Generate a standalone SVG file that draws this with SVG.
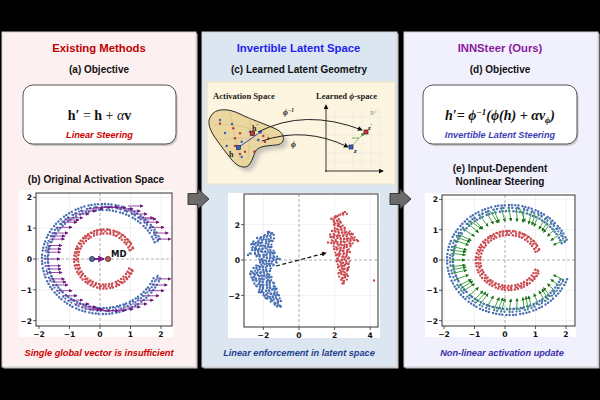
<svg xmlns="http://www.w3.org/2000/svg" width="600" height="400" viewBox="0 0 600 400">
<defs>
<style>
.ttl{font-family:"Liberation Sans",Arial,sans-serif;font-weight:bold;font-size:11.3px;text-anchor:middle}
.sub{font-family:"Liberation Sans",Arial,sans-serif;font-weight:bold;font-size:10px;text-anchor:middle;fill:#111}
.cap{font-family:"Liberation Sans",Arial,sans-serif;font-weight:bold;font-style:italic;font-size:9.2px;text-anchor:middle}
.fml{font-family:"Liberation Serif","DejaVu Serif",serif;font-size:14px;text-anchor:middle;fill:#111}
.ser{font-family:"Liberation Serif","DejaVu Serif",serif;font-weight:bold;fill:#222}
.tk{font-family:"DejaVu Sans",sans-serif;font-weight:bold;font-size:7.6px;fill:#111}
.tky{text-anchor:end}
.tkx{text-anchor:middle}
.grid{stroke:#e8e8e8;stroke-width:0.6;fill:none}
.zero{stroke:#9a9a9a;stroke-width:0.8;stroke-dasharray:3 2;fill:none}
.axbox{fill:none;stroke:#333;stroke-width:1}
.tm{stroke:#333;stroke-width:0.8}
.dotB{fill:none;stroke:#4a70b4;stroke-width:2.5;stroke-linecap:round;stroke-dasharray:0 3.4 0 2.9 0 4.2 0 3.1}
.dotR{fill:none;stroke:#cc4a50;stroke-width:2.5;stroke-linecap:round;stroke-dasharray:0 3.1 0 3.8 0 2.7 0 3.5}
.dotB2{fill:none;stroke:#4a70b4;stroke-width:2.3;stroke-linecap:round;stroke-dasharray:0 4.1 0 3.3 0 5.2 0 2.8}
.dotR2{fill:none;stroke:#cc4a50;stroke-width:2.3;stroke-linecap:round;stroke-dasharray:0 3.9 0 4.6 0 3.2 0 5.1}
.dotBJ{fill:none;stroke:#4a70b4;stroke-width:2.2;stroke-linecap:round;stroke-dasharray:0 5.3 0 3.7 0 6.1}
.dotRJ{fill:none;stroke:#cc4a50;stroke-width:2.2;stroke-linecap:round;stroke-dasharray:0 5.7 0 4.3 0 6.6}
.parr path{stroke:#7d1f8f;stroke-width:0.9;fill:none;marker-end:url(#ahP);stroke-opacity:0.9}
.garr path{stroke:#2e9e2e;stroke-width:0.9;fill:none;marker-end:url(#ahG)}
.panel{stroke:#d0d0d0;stroke-width:1}
</style>
<marker id="ahP" viewBox="0 0 6 6" refX="5" refY="3" markerWidth="3.5" markerHeight="3.5" orient="auto" markerUnits="userSpaceOnUse"><path d="M0,0 L6,3 L0,6 Z" fill="#6a1478"/></marker>
<marker id="ahG" viewBox="0 0 6 6" refX="5" refY="3" markerWidth="3.5" markerHeight="3.5" orient="auto" markerUnits="userSpaceOnUse"><path d="M0,0 L6,3 L0,6 Z" fill="#1a6e1a"/></marker>
<marker id="ahK" viewBox="0 0 6 6" refX="5" refY="3" markerWidth="5" markerHeight="5" orient="auto" markerUnits="userSpaceOnUse"><path d="M0,0 L6,3 L0,6 Z" fill="#111"/></marker>
<marker id="ahMD" viewBox="0 0 6 6" refX="5" refY="3" markerWidth="7" markerHeight="7" orient="auto" markerUnits="userSpaceOnUse"><path d="M0,0 L6,3 L0,6 Z" fill="#7d1f8f"/></marker>
<marker id="ahGs" viewBox="0 0 6 6" refX="5" refY="3" markerWidth="4" markerHeight="4" orient="auto" markerUnits="userSpaceOnUse"><path d="M0,0 L6,3 L0,6 Z" fill="#2e9e2e"/></marker>
<marker id="ahBl" viewBox="0 0 6 6" refX="5" refY="3" markerWidth="4" markerHeight="4" orient="auto" markerUnits="userSpaceOnUse"><path d="M0,0 L6,3 L0,6 Z" fill="#2a4fd0"/></marker>
<filter id="blur" x="-20%" y="-20%" width="140%" height="140%"><feGaussianBlur stdDeviation="2"/></filter>
</defs>

<rect x="0" y="0" width="600" height="400" fill="#000"/>

<!-- Panels -->
<g id="panel-left">
<rect x="3.5" y="33.5" width="194" height="335" fill="#c4c4c4"/>
<rect x="2" y="32" width="194" height="335" fill="#fdf0f0" class="panel"/>
<text class="ttl" x="99" y="52" fill="#c00000">Existing Methods</text>
<text class="sub" x="99" y="73">(a) Objective</text>
<rect x="24.5" y="87" width="153" height="59" rx="10" fill="#a8a8a8" opacity="0.6"/>
<rect x="23" y="85" width="153" height="59" rx="10" fill="#fff" stroke="#555" stroke-width="1"/>
<text class="fml" x="99.5" y="120"><tspan font-weight="bold">h′</tspan> = <tspan font-weight="bold">h</tspan> + <tspan font-style="italic">α</tspan><tspan font-weight="bold">v</tspan></text>
<text class="cap" x="99.5" y="138" fill="#cc0000" font-size="8.6">Linear Steering</text>
<text class="sub" x="96" y="183">(b) Original Activation Space</text>
<text class="cap" x="99" y="356" fill="#cc0000">Single global vector is insufficient</text>
</g>

<g id="panel-middle">
<rect x="203.5" y="33.5" width="195" height="335" fill="#c4c4c4"/>
<rect x="202" y="32" width="195" height="335" fill="#dce6f1" class="panel"/>
<text class="ttl" x="298.5" y="52" fill="#1f1fef">Invertible Latent Space</text>
<text class="sub" x="299" y="73">(c) Learned Latent Geometry</text>
<text class="cap" x="299" y="356" fill="#1f3f8f">Linear enforcement in latent space</text>
</g>

<g id="panel-right">
<rect x="405.5" y="33.5" width="194" height="335" fill="#c4c4c4"/>
<rect x="404" y="32" width="194" height="335" fill="#f1f0fd" class="panel"/>
<text class="ttl" x="500" y="52" fill="#8a1a9a">INNSteer (Ours)</text>
<text class="sub" x="500" y="73">(d) Objective</text>
<rect x="424.5" y="87" width="154" height="59" rx="10" fill="#a8a8a8" opacity="0.6"/>
<rect x="423" y="85" width="154" height="59" rx="10" fill="#fff" stroke="#555" stroke-width="1"/>
<text class="fml" x="500" y="120" font-weight="bold" font-style="italic">h′= ϕ<tspan dy="-5" font-size="9">−1</tspan><tspan dy="5">(ϕ(h) + αv</tspan><tspan dy="3" font-size="9">ϕ</tspan><tspan dy="-3">)</tspan></text>
<text class="cap" x="500" y="138" fill="#3d3db8" font-size="8.6">Invertible Latent Steering</text>
<text class="sub" x="500" y="172">(e) Input-Dependent</text>
<text class="sub" x="500" y="185">Nonlinear Steering</text>
<text class="cap" x="502" y="356" fill="#3b2fa8">Non-linear activation update</text>
</g>

<!-- (c) inset -->
<g id="latent-geometry">
<rect x="207" y="82" width="188" height="102" fill="#fdf5df" stroke="#efe0bd" stroke-width="1"/>
<text class="ser" x="213" y="99" font-size="8.6">Activation Space</text>
<text class="ser" x="316" y="99" font-size="8.6">Learned <tspan font-style="italic">ϕ</tspan>-space</text>
<path d="M 211 116 C 215 108, 228 108, 240 114 C 250 119, 265 124, 276 129 C 286 134, 286 144, 276 145 C 266 146, 258 146, 255 152 C 252 160, 250 168, 243 167 C 236 166, 232 160, 228 155 C 224 150, 218 142, 214 136 C 209 128, 207 121, 211 116 Z" fill="#999" opacity="0.55" transform="translate(4,4)" filter="url(#blur)"/>
<path d="M 211 116 C 215 108, 228 108, 240 114 C 250 119, 265 124, 276 129 C 286 134, 286 144, 276 145 C 266 146, 258 146, 255 152 C 252 160, 250 168, 243 167 C 236 166, 232 160, 228 155 C 224 150, 218 142, 214 136 C 209 128, 207 121, 211 116 Z" fill="#ead69f" stroke="#2a2a2a" stroke-width="1"/>
<path d="M214 125 Q240 122 270 136 M220 140 Q245 135 262 142 M230 112 Q235 135 240 160 M250 118 Q250 135 248 160" fill="none" stroke="#cdb57c" stroke-width="0.5"/>
<g fill="#3a5fc0"><circle cx="220" cy="120" r="1.2"/><circle cx="225" cy="133" r="1.2"/><circle cx="226.7" cy="146" r="1.2"/><circle cx="241.7" cy="141.7" r="1.2"/><circle cx="250" cy="131.7" r="1.2"/><circle cx="258.3" cy="140" r="1.2"/><circle cx="241.7" cy="157" r="1.2"/><circle cx="232" cy="124" r="1.2"/></g>
<g fill="#c0393f"><circle cx="220" cy="123.5" r="1.2"/><circle cx="233.3" cy="128.3" r="1.2"/><circle cx="240" cy="133.3" r="1.2"/><circle cx="235" cy="138.3" r="1.2"/><circle cx="263.3" cy="136" r="1.2"/><circle cx="268.3" cy="138.3" r="1.2"/><circle cx="265" cy="141.7" r="1.2"/><circle cx="245" cy="151.7" r="1.2"/><circle cx="240" cy="154" r="1.2"/><circle cx="254.3" cy="151.7" r="1.2"/><circle cx="235" cy="146" r="1.2"/></g>
<path d="M239 147 L262 131" stroke="#2a4fd0" stroke-width="1" fill="none" marker-end="url(#ahBl)"/>
<rect x="236.5" y="145.5" width="4" height="4" fill="#3a5fc0" stroke="#1a2a60" stroke-width="0.7"/>
<rect x="250.5" y="131.5" width="4" height="4" fill="#c0393f" stroke="#5a1010" stroke-width="0.7"/>
<text class="ser" x="229" y="157" font-size="8">h</text>
<text class="ser" x="252" y="131" font-size="8">h<tspan font-size="6" dy="-3">′</tspan></text>
<g class="grid" stroke="#e2e2e2"><path d="M335 108V171M344 108V171M353 108V171M362 108V171M371 108V171M380 108V171M326 117H382M326 126H382M326 135H382M326 144H382M326 153H382M326 162H382"/></g>
<path d="M326 172 V105" stroke="#222" stroke-width="0.9" fill="none" marker-end="url(#ahK)"/>
<path d="M325 171 H383" stroke="#222" stroke-width="0.9" fill="none" marker-end="url(#ahK)"/>
<text x="370" y="115" font-family="'DejaVu Serif',serif" font-size="5" fill="#999">ℝ<tspan font-size="3.5" dy="-2">d</tspan></text>
<path d="M351 147 L364 133" stroke="#2e9e2e" stroke-width="0.9" stroke-dasharray="1.6 1.2" fill="none" marker-end="url(#ahGs)"/>
<text x="352" y="139" font-family="'DejaVu Sans',sans-serif" font-size="3.8" fill="#2e9e2e">αv<tspan font-size="3">ϕ</tspan></text>
<path d="M258 132 Q 305 108 362 130" stroke="#222" stroke-width="1" fill="none" marker-end="url(#ahK)"/>
<path d="M262 141 Q 305 126 348 147" stroke="#222" stroke-width="1" fill="none" marker-end="url(#ahK)"/>
<rect x="349" y="145" width="4" height="4" fill="#3a5fc0" stroke="#1a2a60" stroke-width="0.7"/>
<rect x="364" y="130" width="4" height="4" fill="#c0393f" stroke="#5a1010" stroke-width="0.7"/>
<text class="ser" x="354" y="153" font-size="7" font-style="italic">z</text>
<text class="ser" x="368" y="130" font-size="7" font-style="italic">z<tspan font-size="5" dy="-3">′</tspan></text>
<text class="ser" x="283" y="115" font-size="8.5" font-style="italic">ϕ<tspan font-size="5.5" dy="-3.5">−1</tspan></text>
<text class="ser" x="291" y="147" font-size="8.5" font-style="italic">ϕ</text>
</g>

<!-- (b) plot -->
<g id="plot-b">
<rect x="19" y="190" width="154" height="147" fill="#fff"/>
<path class="grid" d="M39 193V326M69.5 193V326M130.5 193V326M161 193V326M36 197.4H172M36 228.2H172M36 289.8H172M36 320.6H172"/>
<path class="zero" d="M100 193V326M36 259H172"/>
<path class="dotB" d="M154.7 242.2 A55 49 0 1 0 154.7 275.8"/>
<path class="dotB2" d="M157.5 241.2 A58 52 0 1 0 157.5 276.8"/>
<path class="dotB" d="M160.3 240.2 A61 55 0 1 0 160.3 277.8" style="stroke-dashoffset:1.7"/>
<path class="dotBJ" d="M158.1 240.1 A57 51 0 1 0 158.1 274.9"/>
<path class="dotR" d="M129.5 250.3 A26.5 25.5 0 1 0 129.5 267.7"/>
<path class="dotR2" d="M131.4 249.6 A28.5 27.5 0 1 0 131.4 268.4"/>
<path class="dotR" d="M133.3 248.9 A30.5 29.5 0 1 0 133.3 269.1" style="stroke-dashoffset:1.5"/>
<path class="dotRJ" d="M133.3 248.3 A29.5 28.5 0 1 0 133.3 267.7"/>
<g class="parr">
<path d="M156.6 239.1h14"/><path d="M153.2 233h15"/><path d="M149 227.3h15"/><path d="M144 222.2h15"/><path d="M138.3 217.8h15"/><path d="M132 214h15"/><path d="M125.2 211h15"/><path d="M118 208.8h15"/><path d="M110.6 207.5h15"/><path d="M103 207h15"/><path d="M95.4 207.5h15"/><path d="M88 208.8h15"/><path d="M80.8 211h15"/><path d="M74 214h15"/><path d="M67.7 217.8h15"/><path d="M62 222.2h15"/><path d="M57 227.3h15"/><path d="M52.8 233h15"/><path d="M49.4 239.1h15"/><path d="M47 245.5h15"/><path d="M45.5 252.2h15"/><path d="M45 259h15"/><path d="M45.5 265.8h15"/><path d="M47 272.5h15"/><path d="M49.4 278.9h15"/><path d="M52.8 285h15"/><path d="M57 290.7h15"/><path d="M62 295.8h15"/><path d="M67.7 300.2h15"/><path d="M74 304h15"/><path d="M80.8 307h15"/><path d="M88 309.2h15"/><path d="M95.4 310.5h15"/><path d="M103 311h15"/><path d="M110.6 310.5h15"/><path d="M118 309.2h15"/><path d="M125.2 307h15"/><path d="M132 304h15"/><path d="M138.3 300.2h15"/><path d="M144 295.8h15"/><path d="M149 290.7h15"/><path d="M153.2 285h14"/><path d="M156.6 278.9h14"/>
<path d="M64 220h15"/><path d="M50 236h15"/><path d="M46 249h15"/><path d="M46 269h15"/><path d="M51 282h15"/><path d="M85 309h15"/><path d="M128 206h15"/><path d="M141 219h15"/>
</g>
<path d="M94 259 H104" stroke="#7d1f8f" stroke-width="2" fill="none" marker-end="url(#ahMD)"/>
<circle cx="92" cy="259" r="2.5" fill="#4a70b4" stroke="#222" stroke-width="0.8"/>
<circle cx="108" cy="259" r="2.5" fill="#e0555a" stroke="#222" stroke-width="0.8"/>
<text x="111" y="256.5" font-family="'DejaVu Sans',sans-serif" font-weight="bold" font-size="8.5" fill="#111">MD</text>
<rect class="axbox" x="36" y="193" width="136" height="133"/>
<path class="tm" d="M33 197.4h3M33 228.2h3M33 259h3M33 289.8h3M33 320.6h3M39 326v3M69.5 326v3M100 326v3M130.5 326v3M161 326v3"/>
<g class="tk tky"><text x="32" y="200">2</text><text x="32" y="231">1</text><text x="32" y="262">0</text><text x="32" y="292.5">−1</text><text x="32" y="323.5">−2</text></g>
<g class="tk tkx"><text x="39" y="337">−2</text><text x="69.5" y="337">−1</text><text x="100" y="337">0</text><text x="130.5" y="337">1</text><text x="161" y="337">2</text></g>
</g>

<!-- (c) latent scatter -->
<g id="plot-latent">
<rect x="228" y="193" width="152" height="145" fill="#fff"/>
<path class="grid" d="M263.4 194V327M334.6 194V327M370.2 194V327M244 224.6H378M244 295.4H378"/>
<path class="zero" d="M299 194V327M244 260H378"/>
<path class="dotB" d="M268 232L274 235L257 238L273 241L250 244L272 247L252 250L276 253L255 256L280 259L258 262L275 265L253 268L270 271L249 274L272 277L251 280L275 283L255 286L278 289L258 292L280 295L265 298L281 301L273 304L282 307"/>
<path class="dotB2" d="M272 233L262 235.5L274 238.5L252 241.5L272 244.5L250 247.5L274 250.5L249 253.5L278 256.5L258 259.5L278 262.5L256 265.5L272 268.5L250 271.5L271 274.5L250 277.5L273 280.5L253 283.5L276 286.5L257 289.5L278 292.5L262 295.5L280 298.5L270 301.5L281 304.5L276 307"/>
<path class="dotR" d="M343 213L338 216L331 219L342 222L333 225L346 228L332 231L354 234L329 237L357 240L331 243L352 246L334 249L350 252L335 255L350 258L336 261L349 264L337 267L349 270L338 273L348 276L340 279L345 282L342 285"/>
<path class="dotR2" d="M347 214L333 216.5L340 219.5L332 222.5L343 225.5L334 228.5L350 231.5L330 234.5L356 237.5L330 240.5L354 243.5L333 246.5L350 249.5L335 252.5L349 255.5L336 258.5L350 261.5L337 264.5L350 267.5L338 270.5L348 273.5L339 276.5L347 279.5L341 282.5L344 285"/>
<g fill="#cc4a50"><circle cx="374" cy="280.5" r="1.2"/><circle cx="345" cy="212" r="1.2"/><circle cx="328" cy="242.5" r="1.2"/><circle cx="358" cy="241" r="1.2"/></g>
<g fill="#4a70b4"><circle cx="248" cy="255" r="1.2"/><circle cx="280" cy="306" r="1.2"/><circle cx="269" cy="232" r="1.2"/></g>
<path d="M276 266 L326 253" stroke="#111" stroke-width="1.2" stroke-dasharray="4 2.5" fill="none" marker-end="url(#ahK)"/>
<rect class="axbox" x="244" y="194" width="134" height="133"/>
<path class="tm" d="M241 224.6h3M241 260h3M241 295.4h3M263.4 327v3M299 327v3M334.6 327v3M370.2 327v3"/>
<g class="tk tky"><text x="240" y="227.5">2</text><text x="240" y="263">0</text><text x="240" y="298.5">−2</text></g>
<g class="tk tkx"><text x="263.4" y="338">−2</text><text x="299" y="338">0</text><text x="334.6" y="338">2</text><text x="370.2" y="338">4</text></g>
</g>

<!-- (e) plot -->
<g id="plot-e">
<rect x="425" y="193" width="151" height="144" fill="#fff"/>
<path class="grid" d="M444 195V326M474.5 195V326M535.5 195V326M566 195V326M442 199.4H575M442 229.7H575M442 290.3H575M442 320.6H575"/>
<path class="zero" d="M505 195V326M442 260H575"/>
<path class="dotB" d="M561.6 243.2 A56 49 0 1 0 561.6 276.8"/>
<path class="dotB2" d="M564.5 242.2 A59 52 0 1 0 564.5 277.8"/>
<path class="dotB" d="M567.3 241.2 A62 55 0 1 0 567.3 278.8" style="stroke-dashoffset:1.7"/>
<path class="dotBJ" d="M565 241.1 A58 51 0 1 0 565 275.9"/>
<path class="dotR" d="M535.5 251.8 A28.5 25.5 0 1 0 535.5 269.2"/>
<path class="dotR2" d="M537.6 251.1 A30.7 27.5 0 1 0 537.6 269.9"/>
<path class="dotR" d="M539.6 250.4 A32.9 29.5 0 1 0 539.6 270.6" style="stroke-dashoffset:1.5"/>
<path class="dotRJ" d="M539.3 249.8 A31.5 28.5 0 1 0 539.3 269.2"/>
<g class="garr">
<path d="M563.5 240.1L553.5 245.1"/><path d="M560.1 234L550.8 240.5"/><path d="M555.8 228.3L547.5 236.2"/><path d="M550.7 223.2L543.5 232.4"/><path d="M544.9 218.8L539 229.1"/><path d="M538.5 215L534 226.3"/><path d="M531.6 212L528.6 224"/><path d="M524.3 209.8L522.9 222.4"/><path d="M516.7 208.5L517 221.4"/><path d="M509 208L511 221"/><path d="M501.3 208.5L505 221.4"/><path d="M493.7 209.8L499.1 222.4"/><path d="M486.4 212L493.4 224"/><path d="M479.5 215L488 226.3"/><path d="M473.1 218.8L483 229.1"/><path d="M467.3 223.2L478.5 232.4"/><path d="M462.2 228.3L474.5 236.2"/><path d="M457.9 234L471.2 240.5"/><path d="M454.5 240.1L468.5 245.1"/><path d="M452 246.5L466.6 249.9"/><path d="M450.5 253.2L465.4 254.9"/><path d="M450 260L465 260"/><path d="M450.5 266.8L465.4 265.1"/><path d="M452 273.5L466.6 270.1"/><path d="M454.5 279.9L468.5 274.9"/><path d="M457.9 286L471.2 279.5"/><path d="M462.2 291.7L474.5 283.8"/><path d="M467.3 296.8L478.5 287.6"/><path d="M473.1 301.2L483 290.9"/><path d="M479.5 305L488 293.7"/><path d="M486.4 308L493.4 296"/><path d="M493.7 310.2L499.1 297.6"/><path d="M501.3 311.5L505 298.6"/><path d="M509 312L511 299"/><path d="M516.7 311.5L517 298.6"/><path d="M524.3 310.2L522.9 297.6"/><path d="M531.6 308L528.6 296"/><path d="M538.5 305L534 293.7"/><path d="M544.9 301.2L539 290.9"/><path d="M550.7 296.8L543.5 287.6"/><path d="M555.8 291.7L547.5 283.8"/><path d="M560.1 286L550.8 279.5"/><path d="M563.5 279.9L553.5 274.9"/>
<path d="M520.5 209L525 221.5"/><path d="M490 211L498 223"/><path d="M470 221L482 229"/><path d="M456 237L470 242"/><path d="M451 250L466 252"/><path d="M451 270L466 267"/><path d="M460 289L473 281"/><path d="M476 303L486 292"/><path d="M497.5 311L503 298"/><path d="M528 309L526 296.5"/><path d="M548 299L542 289"/><path d="M547.8 221L542 231"/><path d="M535 213.5L532 225"/>
</g>
<rect class="axbox" x="442" y="195" width="133" height="131"/>
<path class="tm" d="M439 199.4h3M439 229.7h3M439 260h3M439 290.3h3M439 320.6h3M444 326v3M474.5 326v3M505 326v3M535.5 326v3M566 326v3"/>
<g class="tk tky"><text x="438" y="202.3">2</text><text x="438" y="232.6">1</text><text x="438" y="263">0</text><text x="438" y="293.2">−1</text><text x="438" y="323.5">−2</text></g>
<g class="tk tkx"><text x="444" y="337">−2</text><text x="474.5" y="337">−1</text><text x="505" y="337">0</text><text x="535.5" y="337">1</text><text x="566" y="337">2</text></g>
</g>

<!-- connectors between panels -->
<g id="connectors">
<polygon points="188,193.5 198,193.5 198,189 209,199 198,209 198,204.5 188,204.5" fill="#6b6b6b" stroke="#2e2e2e" stroke-width="0.9"/>
<polygon points="390,193.5 400,193.5 400,189 411,199 400,209 400,204.5 390,204.5" fill="#6b6b6b" stroke="#2e2e2e" stroke-width="0.9"/>
</g>
</svg>
